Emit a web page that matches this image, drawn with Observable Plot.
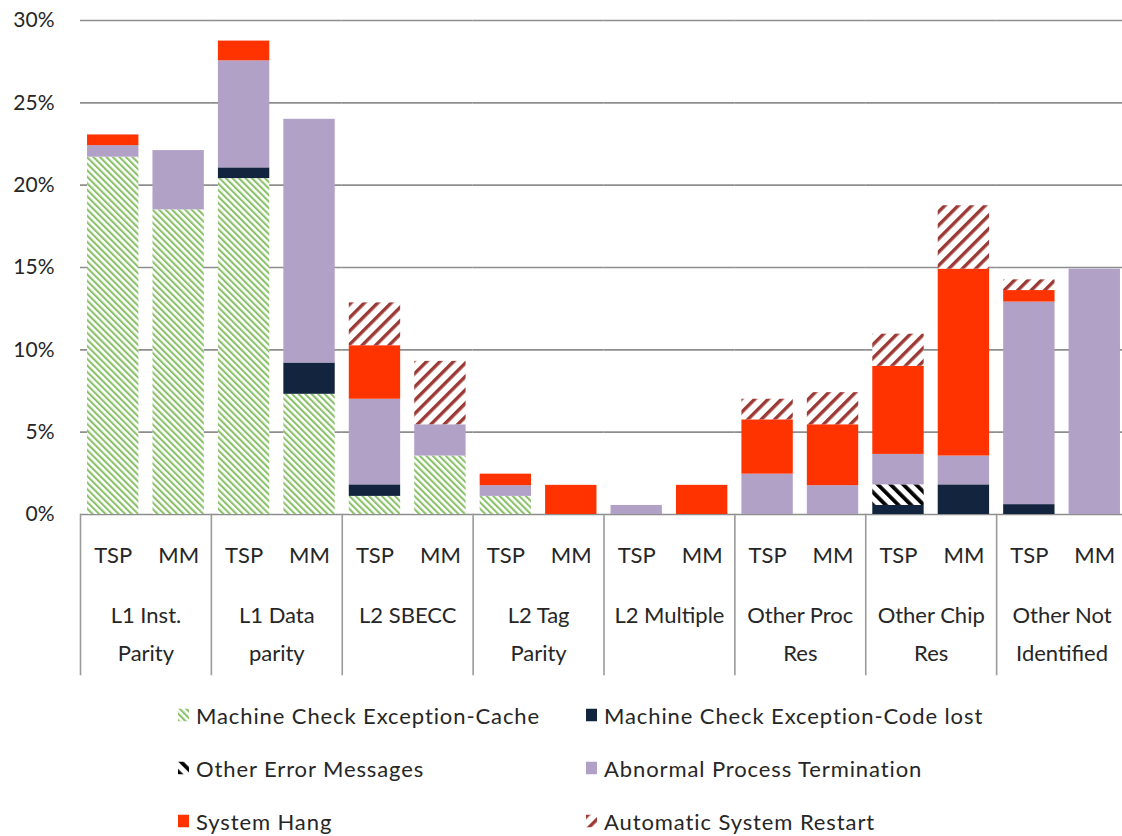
<!DOCTYPE html>
<html><head><meta charset="utf-8">
<script src="https://cdn.jsdelivr.net/npm/d3@7"></script>
<script src="https://cdn.jsdelivr.net/npm/@observablehq/plot@0.6"></script>
<style>
html,body{margin:0;padding:0;background:#fff;overflow:hidden;}
body{font-family:Lato, "Open Sans", sans-serif;width:1122px;height:836px;}
#chart{height:690px;width:1122px;overflow:hidden;}
#chart svg{max-width:none !important;}
#legend{position:relative;height:146px;width:1122px;}
.item{position:absolute;font-size:22px;letter-spacing:0.9px;color:#262626;display:flex;align-items:center;white-space:nowrap;transform:translateY(-50%);}
.item svg{margin-right:7px;}
</style></head><body><div id="chart"></div><div id="legend"></div>
<script>
// ---- data (percent) ----
const groups = ["L1 Inst.\nParity","L1 Data\nparity","L2 SBECC","L2 Tag\nParity","L2 Multiple","Other Proc\nRes","Other Chip\nRes","Other Not\nIdentified"];
const subs = ["TSP","MM"];
const seriesNames = ["Machine Check Exception-Cache","Machine Check Exception-Code lost","Other Error Messages","Abnormal Process Termination","System Hang","Automatic System Restart"];
// values per bar: order = groups x subs (TSP, MM)
const cacheVals    = [21.7,18.5, 20.4,7.3,  1.1,3.55, 1.1,0,    0,0,     0,0,      0,0,       0,0];
const codeLostVals = [0,0,       0.65,1.9,  0.7,0,    0,0,      0,0,     0,0,      0.55,1.8,  0.6,0];
const otherErrVals = [0,0,       0,0,       0,0,      0,0,      0,0,     0,0,      1.25,0,    0,0];
const abnormalVals = [0.7,3.6,   6.5,14.8,  5.2,1.9,  0.65,0,   0.55,0,  2.45,1.75, 1.85,1.75, 12.3,14.9];
const hangVals     = [0.65,0,    1.2,0,     3.25,0,   0.7,1.77, 0,1.77,  3.3,3.7,  5.35,11.35,0.7,0];
const restartVals  = [0,0,       0,0,       2.6,3.85, 0,0,      0,0,     1.25,1.95,1.95,3.85, 0.65,0];
const yTicks = [0,5,10,15,20,25,30];

const seriesVals = [cacheVals, codeLostVals, otherErrVals, abnormalVals, hangVals, restartVals];
const paints = ["url(#pGreen)","#13243f","url(#pBlack)","#b1a1c7","#ff3300","url(#pRestart)"];

const data = [];
groups.forEach((g, gi) => subs.forEach((s, si) => {
  const i = gi * 2 + si;
  seriesNames.forEach((name, k) => {
    data.push({group: g, sub: s, series: name, value: seriesVals[k][i], paint: paints[k]});
  });
}));

const plot = Plot.plot({
  width: 1127, height: 690,
  marginTop: 20, marginLeft: 80, marginRight: 0, marginBottom: 176,
  style: {fontFamily: "Lato, 'Open Sans', sans-serif", color: "#262626", background: "white", overflow: "visible", maxWidth: "none"},
  fx: {domain: groups, padding: 0, round: false, label: null},
  x: {domain: subs, paddingInner: 0.215, paddingOuter: 0.1075, round: false, label: null},
  y: {domain: [0, 30], label: null},
  color: {type: "identity"},
  marks: [
    Plot.gridY(yTicks, {stroke: "#8e8e8e", strokeOpacity: 1, strokeWidth: 1.6}),
    Plot.barY(data, {fx: "group", x: "sub", y: "value", fill: "paint", inset: 0}),
    Plot.frame({anchor: "left", stroke: "#9a9a9a", strokeWidth: 1.6, insetTop: 494, insetBottom: -160}),
    Plot.axisY(yTicks, {tickSize: 0, tickPadding: 26, fontSize: 21, tickFormat: d => d + "%", label: null}),
    Plot.axisX({tickSize: 0, tickPadding: 33, fontSize: 22, label: null}),
    Plot.axisFx({anchor: "bottom", tickSize: 0, tickPadding: 82, fontSize: 22, lineHeight: 1.71, label: null})
  ]
});

// pattern defs
const defs = d3.select(plot).insert("defs", ":first-child");
function addPattern(id, size, angle, color, lw) {
  const p = defs.append("pattern").attr("id", id).attr("patternUnits", "userSpaceOnUse")
    .attr("width", size).attr("height", size).attr("patternTransform", `rotate(${angle})`);
  p.append("rect").attr("width", size).attr("height", size).attr("fill", "#fff");
  p.append("rect").attr("x", 0).attr("y", 0).attr("width", lw).attr("height", size).attr("fill", color);
}
addPattern("pGreen", 4.6, -45, "#8cc16c", 2.1);
addPattern("pBlack", 9, -45, "#000", 3.8);
addPattern("pRestart", 9.5, 45, "#9c3935", 3.4);

document.getElementById("chart").appendChild(plot);

// legend
const legendPos = [
  [178, 25], [586, 25],
  [178, 78], [586, 78],
  [178, 131], [586, 131]
];
const legend = document.getElementById("legend");
const legendOrder = [0, 1, 2, 3, 4, 5];
legendOrder.forEach((k, j) => {
  const div = document.createElement("div");
  div.className = "item";
  div.style.left = legendPos[j][0] + "px";
  div.style.top = legendPos[j][1] + "px";
  div.innerHTML = `<svg width="11" height="13"><rect width="11" height="13" fill="${paints[k]}"/></svg><span>${seriesNames[k]}</span>`;
  legend.appendChild(div);
});
</script></body></html>
